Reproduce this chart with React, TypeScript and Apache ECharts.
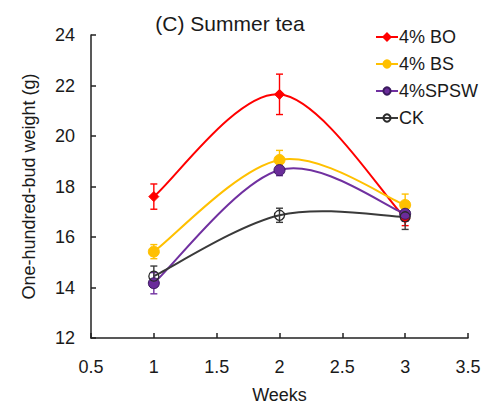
import React, { useEffect, useRef } from "react";
import * as echarts from "echarts";

const weeks = [1, 2, 3];
const seriesNames = ["4% BO", "4% BS", "4%SPSW", "CK"];
const boMean = [17.6, 21.65, 16.75];
const boErr = [0.5, 0.8, 0.3];
const bsMean = [15.42, 19.05, 17.27];
const bsErr = [0.28, 0.38, 0.43];
const spswMean = [14.17, 18.65, 16.92];
const spswErr = [0.42, 0.22, 0.3];
const ckMean = [14.45, 16.86, 16.8];
const ckErr = [0.4, 0.28, 0.5];
const xTicks = [0.5, 3.5, 0.5];
const yTicks = [12, 24, 2];

const colors = ["#ff0000", "#ffc000", "#7030a0", "#3a3a3a"];
const FONT = "Liberation Sans, Arial, sans-serif";
const TXT = "#1a1a1a";

export default function App() {
  const ref = useRef<HTMLDivElement>(null);
  useEffect(() => {
    if (!ref.current) return;
    const chart = echarts.init(ref.current, undefined, { renderer: "svg" });
    const means = [boMean, bsMean, spswMean, ckMean];
    const errs = [boErr, bsErr, spswErr, ckErr];
    const symbols = ["diamond", "circle", "circle", "circle"];
    const sizes = [10, 11, 11, 10];
    const fills = ["#ff0000", "#ffc000", "#6a2c9a", "rgba(255,255,255,0)"];
    const borders = ["#ff0000", "#ffc000", "#3a1a5e", "#2a2a2a"];

    // smooth curves (cardinal spline through the data points, drawn via the axes' coord)
    const curveSeries = means.map((m, i) => ({
      name: seriesNames[i] + "-curve",
      type: "custom",
      data: weeks.map((w, j) => [w, m[j]]),
      encode: { x: 0, y: 1 },
      renderItem: (params: any, api: any) => {
        const j = params.dataIndex;
        const n = weeks.length;
        if (j >= n - 1) return null;
        const P = (k: number) => {
          const kk = Math.max(0, Math.min(n - 1, k));
          return api.coord([weeks[kk], m[kk]]);
        };
        const p0 = P(j - 1);
        const p1 = P(j);
        const p2 = P(j + 1);
        const p3 = P(j + 2);
        const t = 1 / 6;
        return {
          type: "bezierCurve",
          shape: {
            x1: p1[0],
            y1: p1[1],
            x2: p2[0],
            y2: p2[1],
            cpx1: p1[0] + (p2[0] - p0[0]) * t,
            cpy1: p1[1] + (p2[1] - p0[1]) * t,
            cpx2: p2[0] - (p3[0] - p1[0]) * t,
            cpy2: p2[1] - (p3[1] - p1[1]) * t,
          },
          style: { stroke: colors[i], lineWidth: 2, fill: null },
        };
      },
      z: 1,
      silent: true,
    }));

    const errSeries = means.map((m, i) => ({
      name: seriesNames[i] + "-err",
      type: "custom",
      data: weeks.map((w, j) => [w, m[j] - errs[i][j], m[j] + errs[i][j]]),
      encode: { x: 0, y: [1, 2] },
      renderItem: (params: any, api: any) => {
        const x = api.value(0);
        const lo = api.coord([x, api.value(1)]);
        const hi = api.coord([x, api.value(2)]);
        const cw = 3.5;
        const style = { stroke: colors[i], lineWidth: 1.4 };
        return {
          type: "group",
          children: [
            { type: "line", shape: { x1: lo[0], y1: lo[1], x2: hi[0], y2: hi[1] }, style },
            { type: "line", shape: { x1: lo[0] - cw, y1: lo[1], x2: lo[0] + cw, y2: lo[1] }, style },
            { type: "line", shape: { x1: hi[0] - cw, y1: hi[1], x2: hi[0] + cw, y2: hi[1] }, style },
          ],
        };
      },
      z: 2,
      silent: true,
    }));

    const pointSeries = means.map((m, i) => ({
      name: seriesNames[i],
      type: "line",
      data: weeks.map((w, j) => [w, m[j]]),
      symbol: symbols[i],
      symbolSize: sizes[i],
      showSymbol: true,
      lineStyle: { color: colors[i], width: 2, opacity: 0 },
      itemStyle: {
        color: fills[i],
        borderColor: borders[i],
        borderWidth: i === 3 ? 1.3 : 1,
      },
      z: 3,
    }));

    chart.setOption({
      animation: false,
      title: {
        text: "(C) Summer tea",
        left: 225,
        top: 8,
        textAlign: "center",
        textStyle: { fontFamily: FONT, fontSize: 21, fontWeight: "normal", color: TXT },
      },
      legend: {
        data: seriesNames,
        orient: "vertical",
        left: 370,
        top: 23,
        itemWidth: 22,
        itemHeight: 9,
        itemGap: 9,
        lineStyle: { width: 2, opacity: 1 },
        textStyle: { fontFamily: FONT, fontSize: 18, color: TXT, padding: [0, 0, 0, -4] },
      },
      grid: { left: 91, right: 21, top: 35, bottom: 63 },
      xAxis: {
        type: "value",
        min: xTicks[0],
        max: xTicks[1],
        interval: xTicks[2],
        name: "Weeks",
        nameLocation: "middle",
        nameGap: 48,
        nameTextStyle: { fontFamily: FONT, fontSize: 18, color: TXT },
        axisLine: { lineStyle: { color: "#222", width: 1.5 } },
        axisTick: { inside: true, length: 5, lineStyle: { color: "#222", width: 1.5 } },
        axisLabel: { fontFamily: FONT, fontSize: 18, color: TXT, margin: 20 },
        splitLine: { show: false },
      },
      yAxis: {
        type: "value",
        min: yTicks[0],
        max: yTicks[1],
        interval: yTicks[2],
        name: "One-hundred-bud weight (g)",
        nameLocation: "middle",
        nameGap: 53,
        nameTextStyle: { fontFamily: FONT, fontSize: 18, color: TXT },
        axisLine: { lineStyle: { color: "#222", width: 1.5 } },
        axisTick: { inside: true, length: 5, lineStyle: { color: "#222", width: 1.5 } },
        axisLabel: { fontFamily: FONT, fontSize: 18, color: TXT, margin: 16 },
        splitLine: { show: false },
      },
      series: [...curveSeries, ...errSeries, ...pointSeries],
    });
    return () => chart.dispose();
  }, []);
  return <div ref={ref} style={{ width: 489, height: 409, position: "absolute", left: 0, top: 0, background: "#fff" }} />;
}
